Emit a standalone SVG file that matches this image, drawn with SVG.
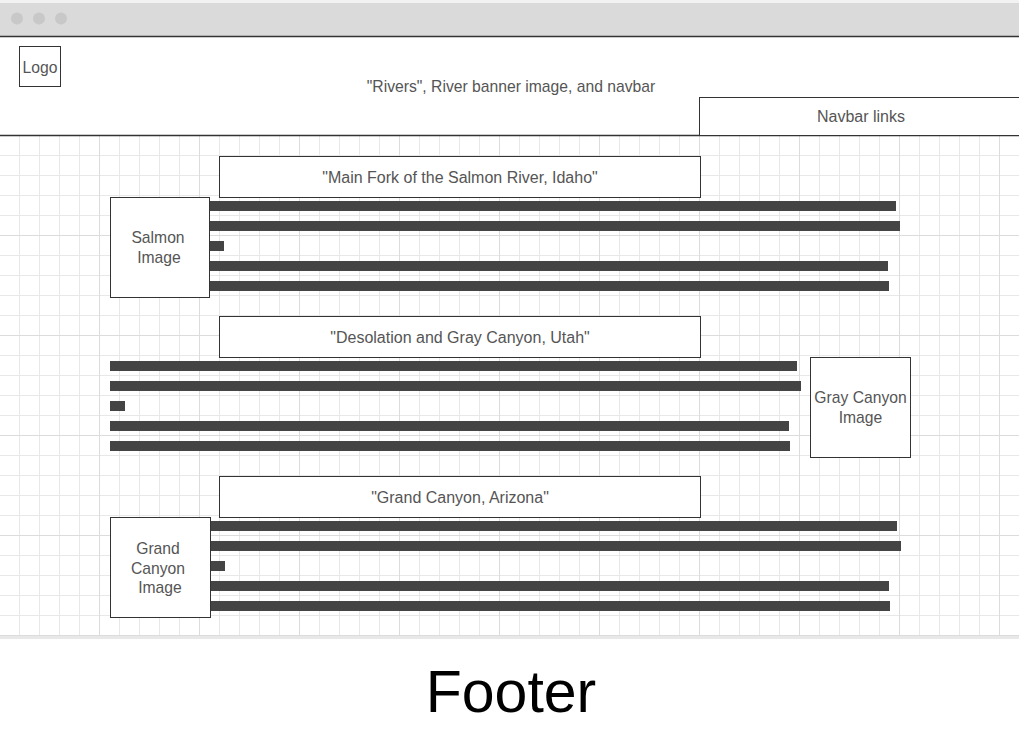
<svg xmlns="http://www.w3.org/2000/svg" width="1019" height="746" viewBox="0 0 1019 746">
<style>
.box{fill:#fff;stroke:#333;stroke-width:1}
.t{font-family:"Liberation Sans",Arial,sans-serif;font-size:15.7px;fill:#555;text-anchor:middle}
.h{font-size:16px}
.bar{fill:#444}
.hl{stroke:#333;stroke-width:1.5;fill:none}
</style>
<defs>
<pattern id="minor" patternUnits="userSpaceOnUse" x="0" y="136" width="20" height="20">
<path d="M19.5 0V20M0 19.5H20" stroke="#e8e8e8" stroke-width="1" fill="none"/>
</pattern>
<pattern id="major" patternUnits="userSpaceOnUse" x="0" y="136" width="100" height="100">
<path d="M99.5 0V100M0 99.5H100" stroke="#dcdcdc" stroke-width="1" fill="none"/>
</pattern>
</defs>
<rect x="0" y="0" width="1019" height="746" fill="#fff"/>
<g id="titlebar">
<rect x="0" y="0" width="1019" height="3" fill="#f2f2f2"/>
<rect x="0" y="3" width="1019" height="33" fill="#dadada"/>
<circle cx="17" cy="18.5" r="6" fill="#c8c8c8"/>
<circle cx="39" cy="18.5" r="6" fill="#c8c8c8"/>
<circle cx="61" cy="18.5" r="6" fill="#c8c8c8"/>
<line x1="0" y1="36.5" x2="1019" y2="36.5" class="hl"/>
</g>
<g id="grid">
<rect x="0" y="136" width="1019" height="500" fill="url(#minor)"/>
<rect x="0" y="136" width="1019" height="500" fill="url(#major)"/>
<rect x="0" y="636" width="1019" height="3" fill="#e8e8e8"/>
</g>
<g id="header">
<line x1="0" y1="135.5" x2="1019" y2="135.5" class="hl"/>
<text class="t" x="511" y="91.5" font-size="16.2">"Rivers", River banner image, and navbar</text>
</g>
<g id="logo">
<rect class="box" x="19.5" y="46.5" width="41" height="40"/>
<text class="t" x="40" y="72.5">Logo</text>
</g>
<g id="navbar">
<rect class="box" x="699.5" y="97.5" width="330" height="38"/>
<text class="t h" x="861" y="121.5">Navbar links</text>
</g>
<g id="salmon-title">
<rect class="box" x="219.5" y="156.5" width="481" height="41"/>
<text class="t h" x="460" y="182.5">"Main Fork of the Salmon River, Idaho"</text>
</g>
<g id="salmon-image">
<rect class="box" x="110.5" y="197.5" width="99" height="100"/>
<text class="t" x="158" y="242.5">Salmon</text>
<text class="t" x="159" y="262.5">Image</text>
</g>
<g id="salmon-text">
<rect class="bar" x="210" y="201" width="686" height="10"/>
<rect class="bar" x="210" y="221" width="690" height="10"/>
<rect class="bar" x="210" y="241" width="14" height="10"/>
<rect class="bar" x="210" y="261" width="678" height="10"/>
<rect class="bar" x="210" y="281" width="679" height="10"/>
</g>
<g id="gray-title">
<rect class="box" x="219.5" y="316.5" width="481" height="41"/>
<text class="t h" x="460" y="342.5">"Desolation and Gray Canyon, Utah"</text>
</g>
<g id="gray-text">
<rect class="bar" x="110" y="361" width="687" height="10"/>
<rect class="bar" x="110" y="381" width="691" height="10"/>
<rect class="bar" x="110" y="401" width="15" height="10"/>
<rect class="bar" x="110" y="421" width="679" height="10"/>
<rect class="bar" x="110" y="441" width="680" height="10"/>
</g>
<g id="gray-image">
<rect class="box" x="810.5" y="357.5" width="100" height="100"/>
<text class="t" x="860.5" y="403">Gray Canyon</text>
<text class="t" x="860.5" y="423">Image</text>
</g>
<g id="grand-title">
<rect class="box" x="219.5" y="476.5" width="481" height="41"/>
<text class="t h" x="460" y="502.5">"Grand Canyon, Arizona"</text>
</g>
<g id="grand-image">
<rect class="box" x="110.5" y="517.5" width="100" height="100"/>
<text class="t" x="158" y="554">Grand</text>
<text class="t" x="158" y="573.5">Canyon</text>
<text class="t" x="160" y="592.5">Image</text>
</g>
<g id="grand-text">
<rect class="bar" x="211" y="521" width="686" height="10"/>
<rect class="bar" x="211" y="541" width="690" height="10"/>
<rect class="bar" x="211" y="561" width="14" height="10"/>
<rect class="bar" x="211" y="581" width="678" height="10"/>
<rect class="bar" x="211" y="601" width="679" height="10"/>
</g>
<g id="footer">
<text x="511" y="712" font-family="'Liberation Sans',Arial,sans-serif" font-size="59" fill="#000" text-anchor="middle">Footer</text>
</g>
<g id="connectors"/>
</svg>
